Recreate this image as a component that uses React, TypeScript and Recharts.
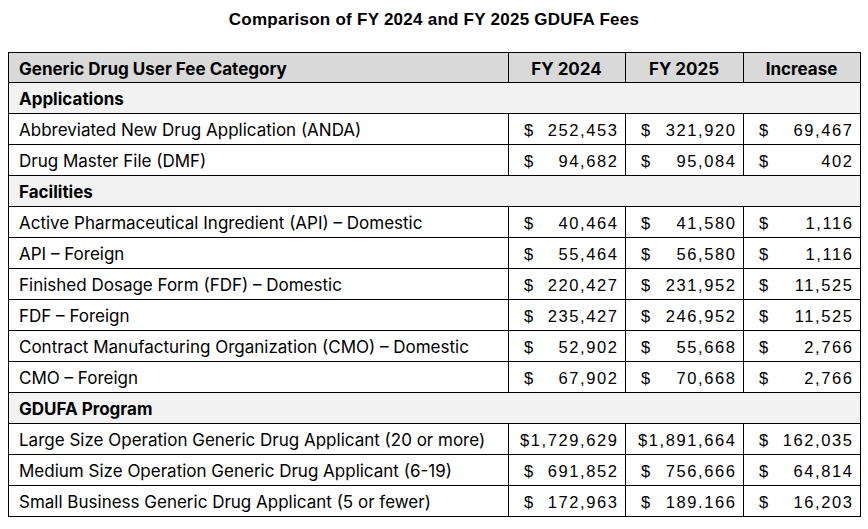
import { BarChart, Bar, XAxis, YAxis } from "recharts";

const title = "Comparison of FY 2024 and FY 2025 GDUFA Fees";

const headers = ["Generic Drug User Fee Category", "FY 2024", "FY 2025", "Increase"];

const categories = [
  "Applications",
  "Abbreviated New Drug Application (ANDA)",
  "Drug Master File (DMF)",
  "Facilities",
  "Active Pharmaceutical Ingredient (API) – Domestic",
  "API – Foreign",
  "Finished Dosage Form (FDF) – Domestic",
  "FDF – Foreign",
  "Contract Manufacturing Organization (CMO) – Domestic",
  "CMO – Foreign",
  "GDUFA Program",
  "Large Size Operation Generic Drug Applicant (20 or more)",
  "Medium Size Operation Generic Drug Applicant (6-19)",
  "Small Business Generic Drug Applicant (5 or fewer)",
];

const sections = ["Applications", "Facilities", "GDUFA Program"];

// values as printed in the source (keeps the "189.166" as shown)
const fy2024 = [null, "252,453", "94,682", null, "40,464", "55,464", "220,427", "235,427", "52,902", "67,902", null, "1,729,629", "691,852", "172,963"];
const fy2025 = [null, "321,920", "95,084", null, "41,580", "56,580", "231,952", "246,952", "55,668", "70,668", null, "1,891,664", "756,666", "189.166"];
const increase = [null, "69,467", "402", null, "1,116", "1,116", "11,525", "11,525", "2,766", "2,766", null, "162,035", "64,814", "16,203"];

const rows = [
  { label: headers[0], kind: "header", vals: headers.slice(1), span: 1 },
  ...categories.map((c, i) => ({
    label: c,
    kind: sections.includes(c) ? "section" : "item",
    vals: [fy2024[i], fy2025[i], increase[i]],
    span: 1,
  })),
];

// column edges as fractions of the table width
const colEdges = [0, 500 / 852, 617 / 852, 735 / 852, 1];
const LABEL_FONT = "Inter, sans-serif";
const NUM_FONT = "'Liberation Sans', Arial, sans-serif";
const NUM_SPACING = 1.6;

function RowShape(props: any) {
  const { x, y, width, height, payload } = props;
  const edges = colEdges.map((f) => x + f * width);
  const cy = y + height / 2 + 1;
  const fill = payload.kind === "header" ? "#d9d9d9" : payload.kind === "section" ? "#f2f2f2" : "#ffffff";
  const bold = payload.kind !== "item";
  const numProps = {
    dominantBaseline: "central",
    fontFamily: NUM_FONT,
    fontSize: 16.5,
    letterSpacing: NUM_SPACING,
    fill: "#000",
  } as any;
  return (
    <g>
      <rect x={x} y={y} width={width} height={height} fill={fill} stroke="#000" strokeWidth={1} shapeRendering="crispEdges" />
      {payload.kind !== "section" &&
        edges.slice(1, 4).map((ex, i) => (
          <line key={i} x1={ex} x2={ex} y1={y} y2={y + height} stroke="#000" strokeWidth={1} shapeRendering="crispEdges" />
        ))}
      <text
        x={x + 11}
        y={cy}
        dominantBaseline="central"
        fontFamily={LABEL_FONT}
        fontSize={17}
        fontWeight={bold ? 700 : 400}
        fill="#000"
      >
        {payload.label}
      </text>
      {payload.kind === "header" &&
        payload.vals.map((v: string, i: number) => (
          <text
            key={i}
            x={(edges[i + 1] + edges[i + 2]) / 2}
            y={cy}
            textAnchor="middle"
            dominantBaseline="central"
            fontFamily={LABEL_FONT}
            fontSize={17}
            fontWeight={700}
            fill="#000"
          >
            {v}
          </text>
        ))}
      {payload.kind === "item" &&
        payload.vals.map((v: string, i: number) => {
          const left = edges[i + 1];
          const right = edges[i + 2];
          const wide = v.length > 7;
          return (
            <g key={i}>
              {!wide && (
                <text x={left + 16} y={cy} {...numProps}>
                  $
                </text>
              )}
              <text x={right - 8 + NUM_SPACING} y={cy} textAnchor="end" {...numProps}>
                {wide ? "$" + v : v}
              </text>
            </g>
          );
        })}
    </g>
  );
}

export default function App() {
  return (
    <div style={{ position: "absolute", left: 0, top: 0, width: 868, height: 529, background: "#fff" }}>
      <div
        style={{
          position: "absolute",
          top: 9,
          left: 0,
          width: 868,
          textAlign: "center",
          fontFamily: NUM_FONT,
          fontWeight: 700,
          fontSize: 17,
          letterSpacing: 0.25,
          lineHeight: "22px",
          color: "#000",
        }}
      >
        {title}
      </div>
      <BarChart
        width={868}
        height={529}
        data={rows}
        layout="vertical"
        barCategoryGap={0}
        margin={{ top: 52, right: 8, bottom: 13, left: 8 }}
      >
        <XAxis type="number" domain={[0, 1]} hide />
        <YAxis type="category" dataKey="label" hide />
        <Bar dataKey="span" shape={RowShape} isAnimationActive={false} />
      </BarChart>
    </div>
  );
}
